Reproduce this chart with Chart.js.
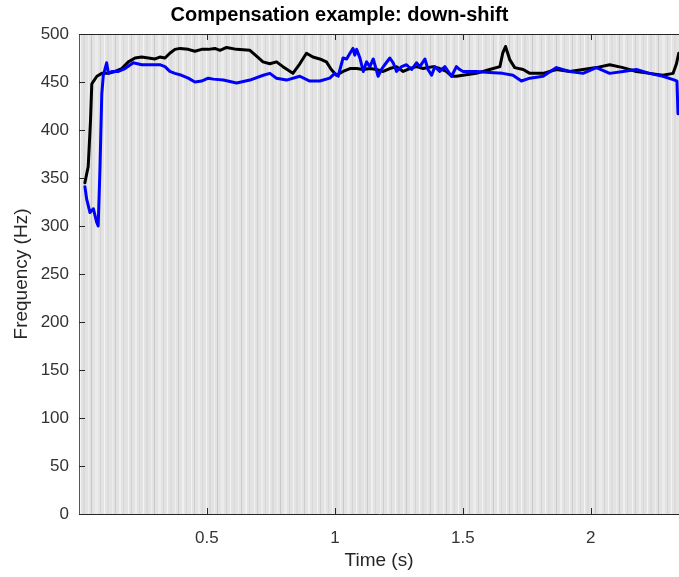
<!DOCTYPE html>
<html>
<head>
<meta charset="utf-8">
<script src="https://cdn.jsdelivr.net/npm/chart.js@4/dist/chart.umd.min.js"></script>
<style>
    html, body { margin: 0; padding: 0; background: #ffffff; }
    #wrap { width: 679px; height: 577px; }
</style>
</head>
<body>
<div id="wrap"><canvas id="freqChart" width="679" height="577"></canvas></div>
<script>
// produced pitch (black) and compensating pitch (blue)
const timeBlack = [0.023, 0.036, 0.045, 0.050, 0.057, 0.070, 0.089, 0.115, 0.141, 0.167, 0.193, 0.219, 0.245, 0.271, 0.297, 0.316, 0.336, 0.355, 0.375, 0.395, 0.427, 0.453, 0.479, 0.505, 0.531, 0.551, 0.577, 0.616, 0.668, 0.694, 0.719, 0.746, 0.772, 0.797, 0.836, 0.863, 0.889, 0.914, 0.941, 0.967, 0.986, 1.006, 1.032, 1.059, 1.085, 1.111, 1.137, 1.163, 1.189, 1.215, 1.241, 1.267, 1.293, 1.319, 1.345, 1.384, 1.410, 1.436, 1.456, 1.475, 1.500, 1.553, 1.605, 1.645, 1.656, 1.667, 1.684, 1.703, 1.736, 1.762, 1.814, 1.866, 1.918, 1.970, 2.022, 2.074, 2.126, 2.178, 2.230, 2.282, 2.322, 2.335, 2.344];
const freqBlack = [345, 362, 410, 448, 451, 456, 459, 459, 461, 464, 471, 475, 476, 475, 474, 476, 475, 480, 484, 485, 484, 482, 484, 484, 485, 483, 486, 484, 483, 477, 471, 469, 471, 466, 459, 469, 480, 476, 474, 471, 463, 457, 461, 464, 464, 463, 464, 463, 461, 464, 466, 461, 464, 466, 464, 466, 464, 461, 456, 456, 457, 459, 463, 466, 480, 487, 473, 465, 463, 459, 459, 463, 461, 463, 465, 468, 465, 461, 459, 457, 459, 469, 480];

const timeBlue = [0.023, 0.030, 0.043, 0.056, 0.069, 0.075, 0.082, 0.089, 0.095, 0.108, 0.115, 0.128, 0.154, 0.180, 0.212, 0.245, 0.284, 0.316, 0.336, 0.355, 0.375, 0.401, 0.427, 0.453, 0.479, 0.505, 0.525, 0.564, 0.616, 0.668, 0.720, 0.746, 0.772, 0.811, 0.863, 0.902, 0.941, 0.980, 1.000, 1.013, 1.032, 1.046, 1.059, 1.071, 1.078, 1.085, 1.098, 1.111, 1.124, 1.137, 1.150, 1.169, 1.182, 1.195, 1.215, 1.228, 1.241, 1.261, 1.280, 1.300, 1.319, 1.332, 1.352, 1.364, 1.378, 1.391, 1.410, 1.430, 1.456, 1.475, 1.488, 1.501, 1.553, 1.605, 1.656, 1.696, 1.729, 1.762, 1.814, 1.866, 1.918, 1.970, 2.022, 2.074, 2.126, 2.178, 2.230, 2.282, 2.328, 2.337, 2.341];
const freqBlue = [341, 328, 314, 318, 304, 300, 360, 437, 457, 470, 459, 461, 461, 464, 470, 468, 468, 468, 466, 461, 459, 457, 454, 450, 451, 454, 453, 452, 449, 452, 457, 459, 454, 452, 456, 451, 451, 454, 459, 456, 475, 474, 480, 485, 478, 484, 475, 461, 471, 466, 474, 456, 463, 468, 475, 470, 461, 466, 468, 463, 470, 466, 474, 463, 457, 466, 461, 466, 456, 466, 463, 461, 461, 460, 459, 457, 451, 454, 456, 465, 461, 459, 465, 459, 461, 463, 459, 456, 452, 451, 417];

const xTickValues = [0.5, 1, 1.5, 2];

// grey stripe texture behind the traces: [offset, width, shade]
const stripes = [
    [2, 1, '#f2f2f2'], [5, 1, '#cfcfcf'], [9, 2, '#ededed'], [13, 1, '#d6d6d6'],
    [17, 1, '#f5f5f5'], [20, 2, '#dadada'], [25, 1, '#efefef'], [28, 1, '#c8c8c8'],
    [32, 3, '#ececec'], [37, 1, '#d4d4d4'], [41, 1, '#f4f4f4'], [44, 2, '#dcdcdc'],
    [49, 1, '#eeeeee'], [52, 1, '#cccccc'], [56, 2, '#f0f0f0'], [60, 1, '#d8d8d8']
];

function toPoints(xs, ys) {
    return xs.map((x, i) => ({ x: x, y: ys[i] }));
}

function makeStripePattern(ctx) {
    const tile = document.createElement('canvas');
    tile.width = 63;
    tile.height = 4;
    const t = tile.getContext('2d');
    t.fillStyle = '#e3e3e3';
    t.fillRect(0, 0, tile.width, tile.height);
    stripes.forEach(s => {
        t.fillStyle = s[2];
        t.fillRect(s[0], 0, s[1], tile.height);
    });
    return ctx.createPattern(tile, 'repeat');
}

// matlab style box: striped background, top edge and inward tick marks
const matlabBox = {
    id: 'matlabBox',
    beforeDraw(chart) {
        const { ctx, chartArea: a } = chart;
        ctx.save();
        ctx.fillStyle = makeStripePattern(ctx);
        ctx.fillRect(a.left, a.top, a.right - a.left, a.bottom - a.top);
        ctx.restore();
    },
    afterDraw(chart) {
        const { ctx, chartArea: a, scales } = chart;
        ctx.save();
        ctx.strokeStyle = '#262626';
        ctx.lineWidth = 1;
        ctx.beginPath();
        ctx.moveTo(a.left, a.top + 0.5);
        ctx.lineTo(a.right, a.top + 0.5);
        scales.x.ticks.forEach(t => {
            const px = Math.round(scales.x.getPixelForValue(t.value)) + 0.5;
            ctx.moveTo(px, a.bottom);
            ctx.lineTo(px, a.bottom - 6);
            ctx.moveTo(px, a.top);
            ctx.lineTo(px, a.top + 6);
        });
        scales.y.ticks.forEach(t => {
            const py = Math.round(scales.y.getPixelForValue(t.value)) + 0.5;
            ctx.moveTo(a.left, py);
            ctx.lineTo(a.left + 6, py);
        });
        ctx.stroke();
        ctx.restore();
    }
};

document.addEventListener('DOMContentLoaded', function() {
    const ctx = document.getElementById('freqChart').getContext('2d');
    const fontFamily = '"Liberation Sans", Arial, Helvetica, sans-serif';

    new Chart(ctx, {
        type: 'line',
        data: {
            datasets: [{
                label: 'compensation',
                data: toPoints(timeBlue, freqBlue),
                borderColor: '#0000ff',
                borderWidth: 3,
                pointRadius: 0,
                tension: 0,
                borderJoinStyle: 'round',
                borderCapStyle: 'round'
            }, {
                label: 'produced',
                data: toPoints(timeBlack, freqBlack),
                borderColor: '#000000',
                borderWidth: 3,
                pointRadius: 0,
                tension: 0,
                borderJoinStyle: 'round',
                borderCapStyle: 'round'
            }]
        },
        options: {
            responsive: false,
            animation: false,
            devicePixelRatio: 1,
            layout: { padding: 0 },
            plugins: {
                legend: { display: false },
                tooltip: { enabled: false },
                title: {
                    display: true,
                    text: 'Compensation example: down-shift',
                    color: '#000000',
                    font: { family: fontFamily, size: 20, weight: 'bold' },
                    padding: { top: 3, bottom: 7 }
                }
            },
            scales: {
                x: {
                    type: 'linear',
                    min: 0,
                    max: 2.345,
                    afterBuildTicks: scale => {
                        scale.ticks = xTickValues.map(v => ({ value: v }));
                    },
                    afterFit: scale => { scale.height = 63; },
                    grid: { display: false, drawTicks: false },
                    border: { display: true, color: '#262626', width: 1 },
                    ticks: {
                        color: '#333333',
                        padding: 14,
                        maxRotation: 0,
                        font: { family: fontFamily, size: 17 },
                        callback: value => String(value)
                    },
                    title: {
                        display: true,
                        text: 'Time (s)',
                        color: '#262626',
                        font: { family: fontFamily, size: 19 },
                        padding: { top: 0, bottom: 5 }
                    }
                },
                y: {
                    min: 0,
                    max: 500,
                    afterFit: scale => { scale.width = 79; },
                    grid: { display: false, drawTicks: false },
                    border: { display: true, color: '#555555', width: 1 },
                    ticks: {
                        stepSize: 50,
                        color: '#333333',
                        padding: 10,
                        font: { family: fontFamily, size: 17 }
                    },
                    title: {
                        display: true,
                        text: 'Frequency (Hz)',
                        color: '#262626',
                        font: { family: fontFamily, size: 19 },
                        padding: { top: 10, bottom: 0 }
                    }
                }
            }
        },
        plugins: [matlabBox]
    });
});
</script>
</body>
</html>
